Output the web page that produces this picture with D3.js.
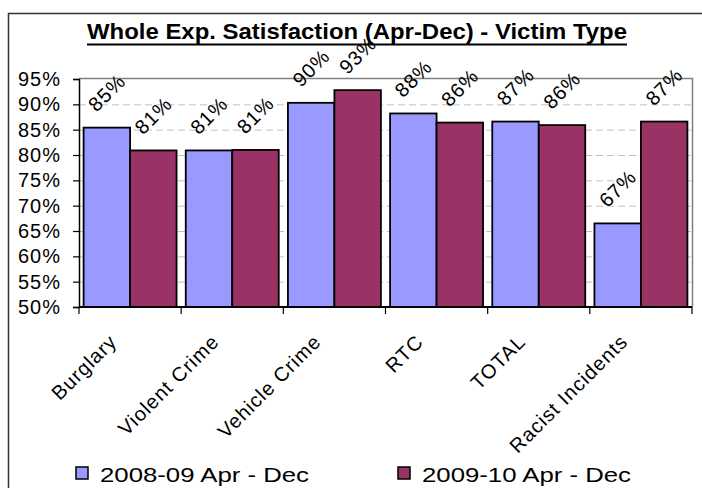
<!DOCTYPE html>
<html>
<head>
<meta charset="utf-8">
<script src="https://cdn.jsdelivr.net/npm/d3@7"></script>
<style>
  body { margin: 0; background: #fff; }
  svg { display: block; font-family: "Liberation Sans", Arial, sans-serif; }
</style>
</head>
<body>
<svg id="chart" width="702" height="488"></svg>
<script>
// chart data
var categories = ["Burglary", "Violent Crime", "Vehicle Crime", "RTC", "TOTAL", "Racist Incidents"];
var seriesNames = ["2008-09 Apr - Dec", "2009-10 Apr - Dec"];
var values0809 = [85.4, 80.9, 90.3, 88.2, 86.6, 66.5];
var values0910 = [80.9, 81.0, 92.8, 86.4, 85.9, 86.6];
var yTicks = [50, 55, 60, 65, 70, 75, 80, 85, 90, 95];
var colors = ["#9999ff", "#993366"];

var svg = d3.select("#chart");
var plot = { left: 79, right: 692, top: 79, bottom: 307 };

// chart frame (runs off the right and bottom edges)
svg.append("rect")
    .attr("x", 8.5).attr("y", 13.5)
    .attr("width", 720).attr("height", 500)
    .attr("fill", "none").attr("stroke", "#333").attr("stroke-width", 1.5);

// title
svg.append("text")
    .attr("x", 87).attr("y", 39)
    .attr("textLength", 540).attr("lengthAdjust", "spacingAndGlyphs")
    .style("font-size", "22px").style("font-weight", "bold")
    .text("Whole Exp. Satisfaction (Apr-Dec) - Victim Type");
svg.append("line")
    .attr("x1", 87).attr("x2", 627).attr("y1", 44.5).attr("y2", 44.5)
    .attr("stroke", "#000").attr("stroke-width", 2);

var y = d3.scaleLinear().domain([50, 95]).range([plot.bottom, plot.top]);
var x0 = d3.scaleBand().domain(categories).range([plot.left, plot.right]);
var x1 = d3.scaleBand().domain([0, 1])
    .range([x0.bandwidth() * 0.045, x0.bandwidth() * 0.955]);

// gridlines
svg.append("g").selectAll("line")
    .data(yTicks.filter(function(t) { return t > 50 && t < 95; }))
    .join("line")
    .attr("x1", plot.left).attr("x2", plot.right)
    .attr("y1", function(d) { return y(d) + 0.5; })
    .attr("y2", function(d) { return y(d) + 0.5; })
    .attr("stroke", "#c0c0c0").attr("stroke-dasharray", "7,4");

// plot area border (top/right)
svg.append("path")
    .attr("d", "M" + plot.left + "," + (plot.top - 0.5) + "H" + (plot.right + 0.5) + "V" + plot.bottom)
    .attr("fill", "none").attr("stroke", "#808080").attr("stroke-width", 1.5);

// bars
var data = categories.map(function(c, i) {
    return { cat: c, vals: [values0809[i], values0910[i]] };
});
var groups = svg.append("g").selectAll("g")
    .data(data)
    .join("g")
    .attr("transform", function(d) { return "translate(" + x0(d.cat) + ",0)"; });

groups.selectAll("rect")
    .data(function(d) { return d.vals.map(function(v, j) { return { v: v, s: j }; }); })
    .join("rect")
    .attr("x", function(d) { return x1(d.s); })
    .attr("width", x1.bandwidth())
    .attr("y", function(d) { return y(d.v); })
    .attr("height", function(d) { return plot.bottom - y(d.v); })
    .attr("fill", function(d) { return colors[d.s]; })
    .attr("stroke", "#000").attr("stroke-width", 1.8);

// rotated value labels
groups.selectAll("text")
    .data(function(d) { return d.vals.map(function(v, j) { return { v: v, s: j }; }); })
    .join("text")
    .attr("transform", function(d) {
        var cx = x1(d.s) + x1.bandwidth() / 2, cy = y(d.v) - 35;
        return "translate(" + cx + "," + cy + ") rotate(-45)";
    })
    .attr("text-anchor", "middle").attr("dy", "0.35em")
    .style("font-size", "20px").style("letter-spacing", "1px")
    .text(function(d) { return Math.round(d.v) + "%"; });

// y axis
var yAxis = svg.append("g")
    .attr("transform", "translate(" + plot.left + ",0)")
    .call(d3.axisLeft(y).tickValues(yTicks).tickSize(6).tickPadding(12)
        .tickFormat(function(d) { return d + "%"; }));
yAxis.select(".domain").attr("stroke", "#000").attr("stroke-width", 1.5);
yAxis.selectAll(".tick line").attr("stroke", "#000").attr("stroke-width", 1.2);
yAxis.selectAll(".tick text")
    .attr("fill", "#000").style("font-size", "20px").style("letter-spacing", "1px")
    .style("font-family", "'Liberation Sans', Arial, sans-serif");

// x axis
var xAxis = svg.append("g")
    .attr("transform", "translate(0," + plot.bottom + ")");
xAxis.append("line")
    .attr("x1", plot.left).attr("x2", plot.right)
    .attr("stroke", "#000").attr("stroke-width", 1.8);
xAxis.selectAll(".tk")
    .data(categories.concat(["end"]))
    .join("line")
    .attr("class", "tk")
    .attr("x1", function(d, i) { return plot.left + i * x0.bandwidth(); })
    .attr("x2", function(d, i) { return plot.left + i * x0.bandwidth(); })
    .attr("y1", 0).attr("y2", 7)
    .attr("stroke", "#000").attr("stroke-width", 1.2);
xAxis.selectAll("text")
    .data(categories)
    .join("text")
    .attr("transform", function(d) {
        return "translate(" + (x0(d) + x0.bandwidth() / 2 - 12) + ",36) rotate(-45)";
    })
    .attr("text-anchor", "end")
    .style("font-size", "20px").style("letter-spacing", "1px")
    .text(function(d) { return d; });

// legend
var legendX = [76, 398];
var legend = svg.append("g").selectAll("g")
    .data(seriesNames)
    .join("g")
    .attr("transform", function(d, i) { return "translate(" + legendX[i] + ",467)"; });
legend.append("rect")
    .attr("width", 12).attr("height", 12)
    .attr("fill", function(d, i) { return colors[i]; })
    .attr("stroke", "#000").attr("stroke-width", 1.5);
legend.append("text")
    .attr("x", 24).attr("y", 15)
    .attr("textLength", 209).attr("lengthAdjust", "spacingAndGlyphs")
    .style("font-size", "21px")
    .text(function(d) { return d; });
</script>
</body>
</html>
